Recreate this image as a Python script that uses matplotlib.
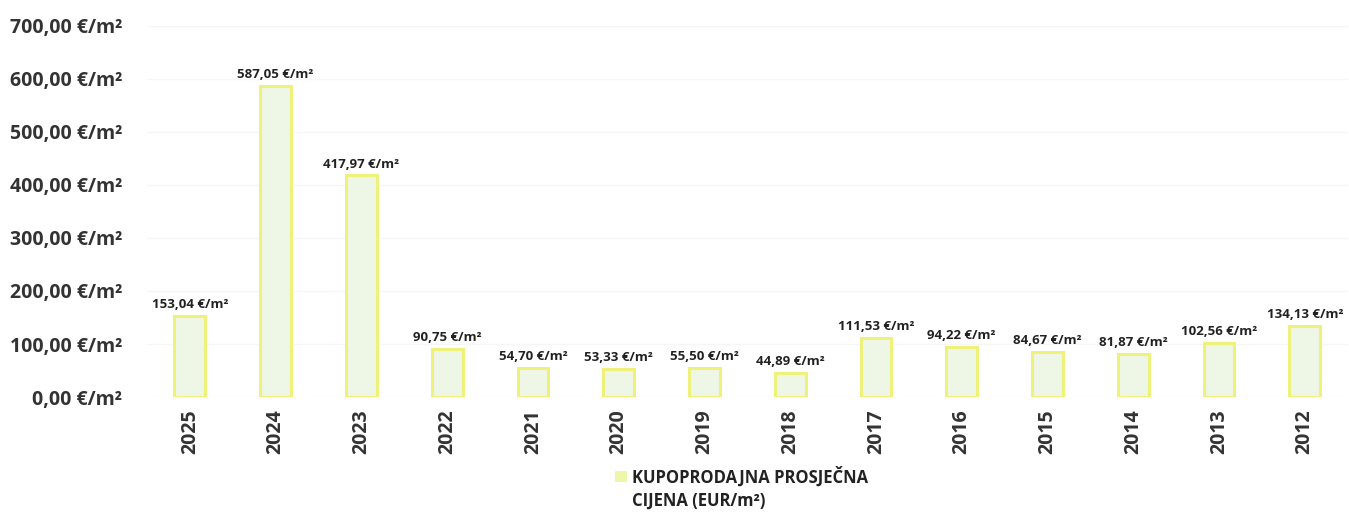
import matplotlib.pyplot as plt
from matplotlib.patches import Rectangle

plt.rcParams['font.family'] = ['Open Sans', 'DejaVu Sans']

years = ["2025", "2024", "2023", "2022", "2021", "2020", "2019",
         "2018", "2017", "2016", "2015", "2014", "2013", "2012"]
prices = [153.04, 587.05, 417.97, 90.75, 54.70, 53.33, 55.50,
          44.89, 111.53, 94.22, 84.67, 81.87, 102.56, 134.13]
y_ticks = [0, 100, 200, 300, 400, 500, 600, 700]
legend_label = "KUPOPRODAJNA PROSJEČNA\nCIJENA (EUR/m²)"


def fmt(v):
    return f"{v:,.2f}".replace(",", " ").replace(".", ",")


fig = plt.figure(figsize=(13.49, 5.29), dpi=100)
ax = fig.add_axes([0.109, 0.2495, 0.89, 0.7015])

x = range(len(years))
ax.bar(x, prices, width=0.36, color="#eef6e6", edgecolor="#eef27a",
       linewidth=2.2)

# etikete iznad stupaca
for xi, v in zip(x, prices):
    ax.text(xi, v + 9, fmt(v) + " €/m²", ha="center", va="bottom",
            fontsize=9.5, fontweight="bold", color="#222222")

ax.set_xlim(-0.5, len(years) - 0.5)
ax.set_ylim(0, 700)
ax.set_yticks(y_ticks)
ax.set_yticklabels([fmt(t) + " €/m²" for t in y_ticks], fontsize=14,
                   fontweight="bold", color="#333333")
ax.set_xticks(list(x))
ax.set_xticklabels(years, rotation=90, fontsize=14, fontweight="bold",
                   color="#333333")
ax.tick_params(axis="y", length=0, pad=18)
ax.tick_params(axis="x", length=0, pad=9)
ax.grid(axis="y", color="#f6f6f6", linewidth=1)
ax.set_axisbelow(True)
for s in ax.spines.values():
    s.set_visible(False)

# legenda
fig.patches.append(Rectangle((0.4559, 0.088), 0.0089, 0.0208,
                             transform=fig.transFigure,
                             facecolor="#eef7a8", edgecolor="none"))
fig.text(0.4685, 0.118, legend_label, ha="left", va="top", fontsize=12,
         fontweight="bold", color="#222222", linespacing=1.35)

fig.savefig("out.png", dpi=100)
